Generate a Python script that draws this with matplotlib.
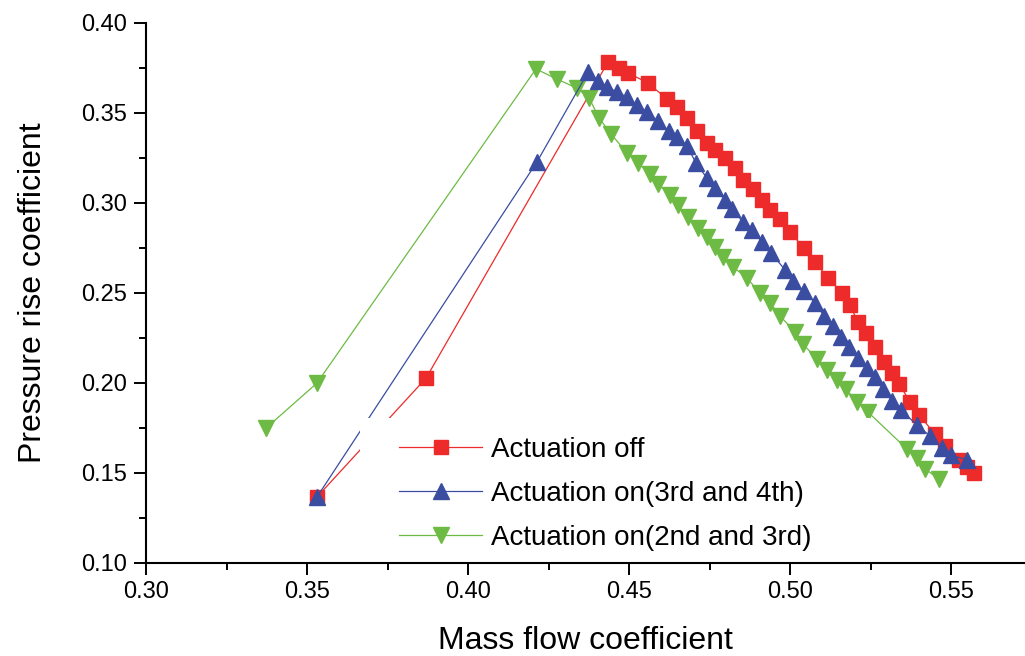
import matplotlib
matplotlib.use("Agg")
import matplotlib.pyplot as plt
from matplotlib.patches import Rectangle

plt.rcParams['font.family'] = ['Liberation Sans', 'DejaVu Sans']

# Actuation off
off_x = [0.3531, 0.3870, 0.4435, 0.4469, 0.4497, 0.4559, 0.4618, 0.4649, 0.4680, 0.4711,
         0.4742, 0.4767, 0.4798, 0.4829, 0.4854, 0.4885, 0.4913, 0.4938, 0.4969, 0.5000,
         0.5043, 0.5078, 0.5118, 0.5162, 0.5186, 0.5211, 0.5236, 0.5264, 0.5292, 0.5317,
         0.5339, 0.5373, 0.5401, 0.5450, 0.5481, 0.5525, 0.5550, 0.5571]
off_y = [0.1365, 0.2026, 0.3782, 0.3748, 0.3721, 0.3665, 0.3576, 0.3532, 0.3471, 0.3398,
         0.3332, 0.3293, 0.3248, 0.3193, 0.3126, 0.3076, 0.3015, 0.2959, 0.2909, 0.2837,
         0.2748, 0.2671, 0.2582, 0.2498, 0.2432, 0.2337, 0.2276, 0.2198, 0.2115, 0.2054,
         0.1993, 0.1893, 0.1821, 0.1715, 0.1648, 0.1571, 0.1532, 0.1498]

# Actuation on (3rd and 4th)
on34_x = [0.3531, 0.4214, 0.4373, 0.4404, 0.4432, 0.4463, 0.4494, 0.4525, 0.4556, 0.4590,
          0.4624, 0.4649, 0.4680, 0.4708, 0.4742, 0.4767, 0.4798, 0.4820, 0.4854, 0.4882,
          0.4913, 0.4941, 0.4985, 0.5009, 0.5043, 0.5078, 0.5106, 0.5134, 0.5158, 0.5183,
          0.5211, 0.5239, 0.5264, 0.5289, 0.5317, 0.5345, 0.5394, 0.5435, 0.5472, 0.5500,
          0.5550]
on34_y = [0.1365, 0.3226, 0.3726, 0.3676, 0.3643, 0.3615, 0.3587, 0.3543, 0.3504, 0.3454,
          0.3398, 0.3365, 0.3315, 0.3221, 0.3137, 0.3082, 0.3015, 0.2965, 0.2893, 0.2848,
          0.2782, 0.2721, 0.2626, 0.2565, 0.2509, 0.2443, 0.2371, 0.2315, 0.2254, 0.2198,
          0.2137, 0.2082, 0.2032, 0.1965, 0.1898, 0.1848, 0.1765, 0.1704, 0.1637, 0.1598,
          0.1571]

# Actuation on (2nd and 3rd)
on23_x = [0.3373, 0.3531, 0.4211, 0.4276, 0.4338, 0.4376, 0.4407, 0.4444, 0.4494, 0.4528,
          0.4565, 0.4590, 0.4627, 0.4652, 0.4683, 0.4714, 0.4742, 0.4767, 0.4792, 0.4823,
          0.4866, 0.4907, 0.4938, 0.4969, 0.5016, 0.5040, 0.5084, 0.5115, 0.5146, 0.5174,
          0.5208, 0.5242, 0.5363, 0.5394, 0.5419, 0.5463]
on23_y = [0.1748, 0.1998, 0.3743, 0.3687, 0.3637, 0.3582, 0.3471, 0.3382, 0.3276, 0.3221,
          0.3159, 0.3104, 0.3043, 0.2987, 0.2921, 0.2859, 0.2809, 0.2754, 0.2698, 0.2643,
          0.2582, 0.2498, 0.2443, 0.2371, 0.2282, 0.2215, 0.2132, 0.2071, 0.2015, 0.1965,
          0.1893, 0.1837, 0.1632, 0.1582, 0.1521, 0.1465]

labels = ["Actuation off", "Actuation on(3rd and 4th)", "Actuation on(2nd and 3rd)"]
x_ticks = [0.30, 0.35, 0.40, 0.45, 0.50, 0.55]
y_ticks = [0.10, 0.15, 0.20, 0.25, 0.30, 0.35, 0.40]

RED = '#ED2B2B'
BLUE = '#3A4DA0'
GREEN = '#6DBB44'

W, H = 1025, 656
fig = plt.figure(figsize=(W / 100, H / 100), dpi=100)
ax = fig.add_axes([146 / W, 1 - 562.7 / H, 1 - 146 / W, (562.7 - 22.7) / H])

l_off, = ax.plot(off_x, off_y, color=RED, lw=0.9, marker='s', ms=10,
                 mec=RED, mfc=RED, zorder=3, label=labels[0])
l_23, = ax.plot(on23_x, on23_y, color=GREEN, lw=0.9, marker='v', ms=11.5,
                mec=GREEN, mfc=GREEN, zorder=3, label=labels[2])
l_34, = ax.plot(on34_x, on34_y, color=BLUE, lw=0.9, marker='^', ms=11.5,
                mec=BLUE, mfc=BLUE, zorder=4, label=labels[1])

ax.set_xlim(0.30, 0.30 + (W - 146) * 0.05 / 161)
ax.set_ylim(0.10, 0.40)
ax.set_xticks(x_ticks)
ax.set_xticklabels([f"{v:.2f}" for v in x_ticks])
ax.set_yticks(y_ticks)
ax.set_yticklabels([f"{v:.2f}" for v in y_ticks])
ax.set_xticks([0.325, 0.375, 0.425, 0.475, 0.525], minor=True)
ax.set_yticks([0.125, 0.175, 0.225, 0.275, 0.325, 0.375], minor=True)

for side in ('top', 'right'):
    ax.spines[side].set_visible(False)
for side in ('left', 'bottom'):
    ax.spines[side].set_linewidth(1.5)

ax.tick_params(which='major', direction='out', length=8.5, width=1.4,
               labelsize=17, pad=5)
ax.tick_params(which='minor', direction='out', length=5, width=1.4)

ax.set_xlabel("Mass flow coefficient", fontsize=23, labelpad=16)
ax.set_ylabel("Pressure rise coefficient", fontsize=23, labelpad=24)

# white backing behind the legend
ax.add_patch(Rectangle((360 / W, 1 - 560 / H), (870 - 360) / W, (560 - 418) / H,
                       transform=fig.transFigure, facecolor='white',
                       edgecolor='none', zorder=5))

leg = ax.legend([l_off, l_34, l_23], labels, loc='upper left',
                bbox_to_anchor=(399 / W, 1 - 437 / H),
                bbox_transform=fig.transFigure, frameon=False, fontsize=20,
                handlelength=3.0, handletextpad=0.3, labelspacing=0.64,
                borderpad=0, borderaxespad=0)
leg.set_zorder(6)

fig.savefig("out.png", dpi=100)
